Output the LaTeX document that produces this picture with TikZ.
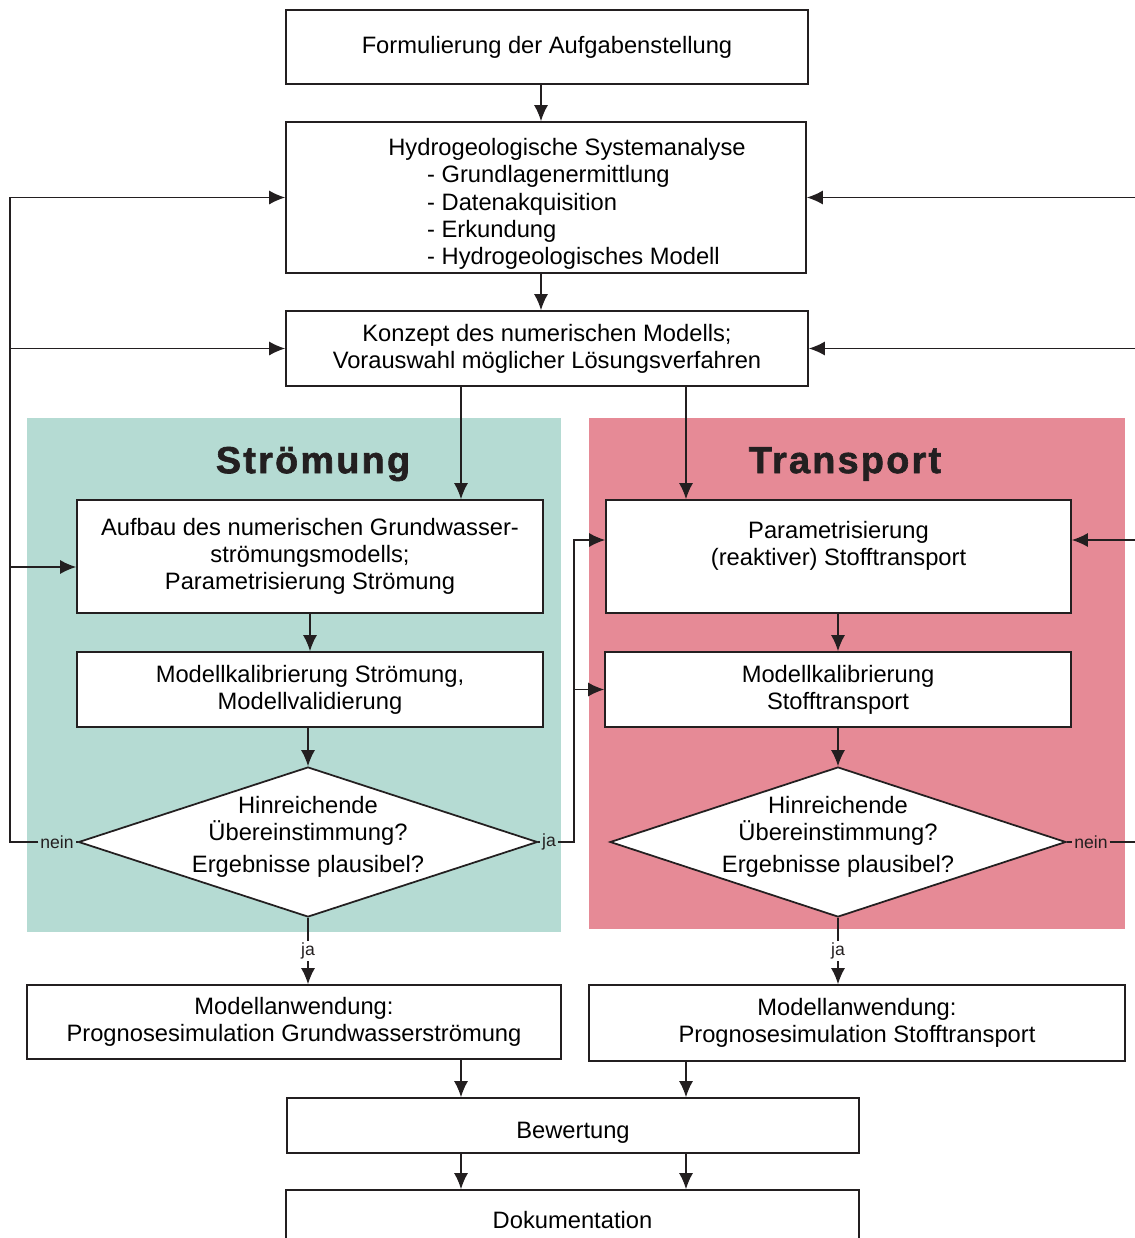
\documentclass[tikz,border=0pt]{standalone}
\usepackage{fontspec}
\setmainfont{Liberation Sans}
\newfontfamily\ttlfont[LetterSpace=6,FakeBold=1.6]{Liberation Sans}
\usepackage{xcolor}
\usetikzlibrary{arrows.meta,positioning,calc,shapes.geometric}
\definecolor{stromgreen}{HTML}{B5DBD3}
\definecolor{transred}{HTML}{E68A96}
\definecolor{linegray}{HTML}{231F20}

\begin{document}
\begin{tikzpicture}[x=0.02cm, y=-0.02cm,
  box/.style={draw=linegray, line width=1pt, fill=white, align=center, inner sep=0pt,
              font=\fontsize{13.5}{15.4}\selectfont},
  dia/.style={draw=linegray, line width=1pt, fill=white, diamond, inner sep=0pt,
              minimum height=3cm},
  dtxt/.style={align=center, font=\fontsize{13.5}{15.4}\selectfont},
  arr/.style={-{Latex[length=0.32cm, width=0.28cm]}, line width=0.8pt, draw=linegray},
  ln/.style={line width=0.8pt, draw=linegray},
  lbl/.style={font=\fontsize{10}{12}\selectfont, inner sep=1pt, text=linegray},
  ttl/.style={font=\ttlfont\bfseries\fontsize{21.5}{24}\selectfont, text=linegray}]
\useasboundingbox (0,0) rectangle (1134,1238);

% panels
\fill[stromgreen] (27,418) rectangle (561,932);
\fill[transred] (589,418) rectangle (1125,929);
\node[ttl] (tstrom) at (313,464) {Strömung};
\node[ttl] (ttrans) at (845,464) {Transport};

\coordinate (cm) at (541,0);
\coordinate (cl) at (461,0);
\coordinate (cr) at (686,0);

\node[box, minimum width=10.44cm, minimum height=1.48cm] (form) at (547,47) {Formulierung der Aufgabenstellung};
\node[box, minimum width=10.4cm, minimum height=3.02cm,
  label={[dtxt, xshift=0.42cm, yshift=-0.16cm]center:{Hydrogeologische Systemanalyse\\
  \hspace*{0.26cm}\begin{tabular}[t]{@{}l@{}}- Grundlagenermittlung\\- Datenakquisition\\- Erkundung\\- Hydrogeologisches Modell\end{tabular}}}] (sys) at (546,197.5) {};
\node[box, minimum width=10.44cm, minimum height=1.5cm] (konz) at (547,348.5) {Konzept des numerischen Modells;\\Vorauswahl möglicher Lösungsverfahren};

\node[box, minimum width=9.32cm, minimum height=2.26cm] (aufbau) at (310,556.5) {Aufbau des numerischen Grundwasser-\\strömungsmodells;\\Parametrisierung Strömung};
\node[box, minimum width=9.32cm, minimum height=1.5cm] (kalS) at (310,689.5) {Modellkalibrierung Strömung,\\Modellvalidierung};
\node[dia, minimum width=9.18cm, label={[dtxt, yshift=0.1cm]center:{Hinreichende\\Übereinstimmung?\\[2.8pt]Ergebnisse plausibel?}}] (diaS) at (308,842) {};

\node[box, minimum width=9.3cm, minimum height=2.26cm] (parT) at (838.5,556.5) {Parametrisierung\\(reaktiver) Stofftransport\\ \mbox{}};
\node[box, minimum width=9.32cm, minimum height=1.5cm] (kalT) at (838,689.5) {Modellkalibrierung\\Stofftransport};
\node[dia, minimum width=9.12cm, label={[dtxt, yshift=0.1cm]center:{Hinreichende\\Übereinstimmung?\\[2.8pt]Ergebnisse plausibel?}}] (diaT) at (838,842) {};

\node[box, minimum width=10.68cm, minimum height=1.48cm] (anwS) at (294,1022) {Modellanwendung:\\Prognosesimulation Grundwasserströmung};
\node[box, minimum width=10.72cm, minimum height=1.52cm] (anwT) at (857,1023) {Modellanwendung:\\Prognosesimulation Stofftransport};
\node[box, minimum width=11.44cm, minimum height=1.1cm, text height=17.8pt, text depth=2.8pt] (bew) at (573,1125.5) {Bewertung};
\node[box, minimum width=11.46cm, minimum height=1.2cm] (dok) at (572.5,1220) {Dokumentation};

% main flow
\draw[arr] (form.south -| cm) -- (sys.north -| cm);
\draw[arr] (sys.south -| cm) -- (konz.north -| cm);
\draw[arr] (konz.south -| cl) -- (aufbau.north -| cl);
\draw[arr] (konz.south -| cr) -- (parT.north -| cr);
\draw[arr] (aufbau) -- (kalS);
\draw[arr] (kalS.south -| diaS.north) -- (diaS.north);
\draw[arr] (parT.south -| kalT.north) -- (kalT.north);
\draw[arr] (kalT) -- (diaT);
\draw[arr] (diaS.south) -- node[lbl, fill=white] (jaS2) {ja} (diaS.south |- anwS.north);
\draw[arr] (diaT.south) -- node[lbl, fill=white] (jaT) {ja} (diaT.south |- anwT.north);
\draw[arr] (anwS.south -| cl) -- (bew.north -| cl);
\draw[arr] (anwT.south -| cr) -- (bew.north -| cr);
\foreach \c in {cl,cr} \draw[arr] (bew.south -| \c) -- (dok.north -| \c);

% feedback left
\node[lbl] (neinS) at (57,842) {nein};
\coordinate (fbl) at (10,842);
\coordinate (aufin) at ([yshift=-0.21cm]aufbau.west);
\draw[ln] (diaS.west) -- (neinS);
\draw[arr] (neinS) -- (fbl) |- (sys.west);
\draw[arr] (fbl |- konz.west) -- (konz.west);
\draw[arr] (fbl |- aufin) -- (aufin);

% ja to transport
\node[lbl] (jaS1) at (549,842) {ja};
\coordinate (jl) at (574,842);
\coordinate (parin) at ([yshift=0.33cm]parT.west);
\draw[ln] (diaS.east) -- (jaS1);
\draw[arr] (jaS1) -- (jl) |- (parin);
\draw[arr] (jl |- kalT.west) -- (kalT.west);

% feedback right
\node[lbl] (neinT) at (1091,842) {nein};
\coordinate (fbr) at (1150,842);
\coordinate (parinr) at ([yshift=0.33cm]parT.east);
\draw[ln] (diaT.east) -- (neinT);
\draw[arr] (neinT) -- (fbr) |- (sys.east);
\draw[arr] (fbr |- konz.east) -- (konz.east);
\draw[arr] (fbr |- parinr) -- (parinr);
\end{tikzpicture}
\end{document}
